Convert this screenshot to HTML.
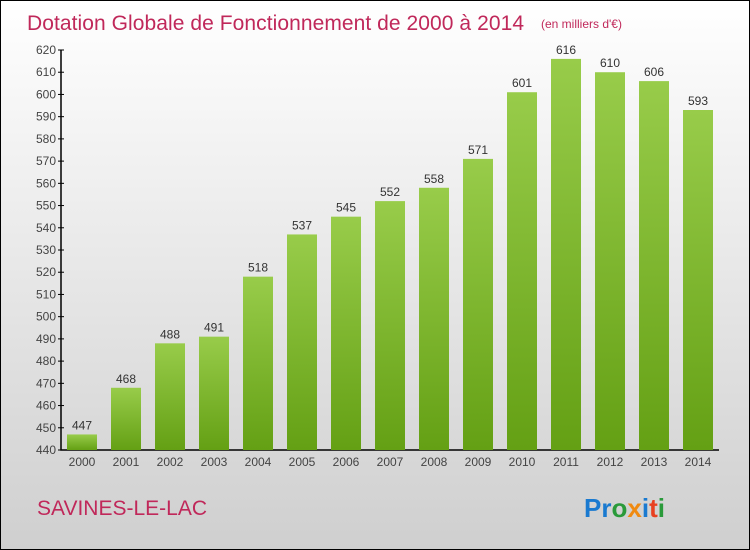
<!DOCTYPE html>
<html><head><meta charset="utf-8"><style>
body{margin:0}
#wrap{position:relative;width:748px;height:548px;border:1px solid #000;background:linear-gradient(#fff,#cfcfcf);font-family:"Liberation Sans",sans-serif;overflow:hidden}
</style></head><body>
<div id="wrap">
<svg id="c" width="748" height="548">
<defs><linearGradient id="g" x1="0" y1="0" x2="0" y2="1"><stop offset="0" stop-color="#98cc4a"/><stop offset="1" stop-color="#64a014"/></linearGradient></defs>
<text x="26" y="29" font-size="21" fill="#c0285a" textLength="497">Dotation Globale de Fonctionnement de 2000 à 2014</text>
<text x="540" y="27" font-size="12" fill="#c0285a">(en milliers d'€)</text>
<text x="36" y="514" font-size="21" fill="#c0285a">SAVINES-LE-LAC</text>
<text x="583" y="516" font-size="26" font-weight="bold"><tspan fill="#1a7ad0">Pr</tspan><tspan fill="#2a9a3a">o</tspan><tspan fill="#f08a10">x</tspan><tspan fill="#1a7ad0">i</tspan><tspan fill="#e84020">t</tspan><tspan fill="#2a9a3a">i</tspan></text>
<g id="plot"></g>
</svg></div>
<script>
const years=["2000","2001","2002","2003","2004","2005","2006","2007","2008","2009","2010","2011","2012","2013","2014"];
const values=[447,468,488,491,518,537,545,552,558,571,601,616,610,606,593];
const ticks=[440,450,460,470,480,490,500,510,520,530,540,550,560,570,580,590,600,610,620];
const NS="http://www.w3.org/2000/svg";
const g=document.getElementById('plot');
const y=v=>449-(v-440)*(400/180);
const x=i=>81+i*44;
function mk(t,a){const e=document.createElementNS(NS,t);for(const k in a)e.setAttribute(k,a[k]);g.appendChild(e);return e;}
const ax=mk('path',{d:`M60 ${y(620)}V${y(440)}H718`,stroke:'#000','stroke-width':1.5,fill:'none'});


ticks.forEach(t=>{
const l=mk('line',{x1:57,x2:63,y1:y(t),y2:y(t),stroke:'#000'});


const tx=mk('text',{x:55,y:y(t)+4,'text-anchor':'end','font-size':12,fill:'#444'});
tx.textContent=t;


});
values.forEach((v,i)=>{
const r=mk('rect',{x:x(i)-15,y:y(v),width:30,height:y(440)-y(v),fill:'url(#g)'});


const lb=mk('text',{x:x(i),y:y(v)-5,'text-anchor':'middle','font-size':12,fill:'#333'});
lb.textContent=v;


const xl=mk('text',{x:x(i),y:465,'text-anchor':'middle','font-size':12,fill:'#444'});
xl.textContent=years[i];


});
</script>
</body></html>
